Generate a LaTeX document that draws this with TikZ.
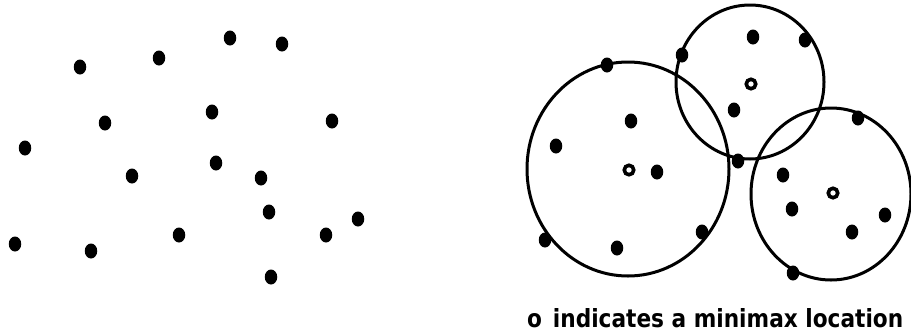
\documentclass[tikz,border=0pt]{standalone}
\usepackage{fontspec}
\setmainfont{DejaVu Sans}
\usetikzlibrary{shapes.geometric}
\begin{document}
\begin{tikzpicture}[x=1pt,y=-1pt,
  dot/.style={ellipse,fill=black,inner sep=0pt,minimum width=12.5pt,minimum height=15pt},
  odot/.style={ellipse,draw=black,line width=3.6pt,inner sep=0pt,minimum width=9.5pt,minimum height=9.5pt},
  ring/.style={draw=black,line width=3pt}]
\useasboundingbox (0,0) rectangle (911,333);
% left panel
\foreach \n/\x/\y in {a/80/67,b/159/58,c/230/38,d/282/44,e/105/123,f/212/112,g/332/121,h/25/148,
  i/216/163,j/132/176,k/261/178,l/269/212,m/358/219,n/326/235,o/179/235,p/15/244,q/91/251,r/271/277}
  {\node[dot] (L\n) at (\x,\y) {};}
% right panel circles
\draw[ring] (628,169) ellipse [x radius=101, y radius=107];
\draw[ring] (750,82) ellipse [x radius=74, y radius=77];
\draw[ring] (831,194) ellipse [x radius=80, y radius=86];
% right panel dots
\foreach \n/\x/\y in {a/607/65,b/682/55,c/753/37,d/805/40,e/734/110,f/631/121,g/556/146,h/657/172,
  i/738/161,j/858/118,k/783/175,l/792/209,m/885/215,n/852/232,o/702/232,p/545/240,q/617/248,r/793/273}
  {\node[dot] (R\n) at (\x,\y) {};}
% minimax locations
\node[odot] (M1) at (751,84) {};
\node[odot] (M2) at (629,170) {};
\node[odot] (M3) at (833,193) {};
% legend
\node[anchor=base west,inner sep=0pt] (leg) at (527,327) {\resizebox{376pt}{19pt}{\bfseries o\enspace indicates a minimax location}};
\end{tikzpicture}
\end{document}
